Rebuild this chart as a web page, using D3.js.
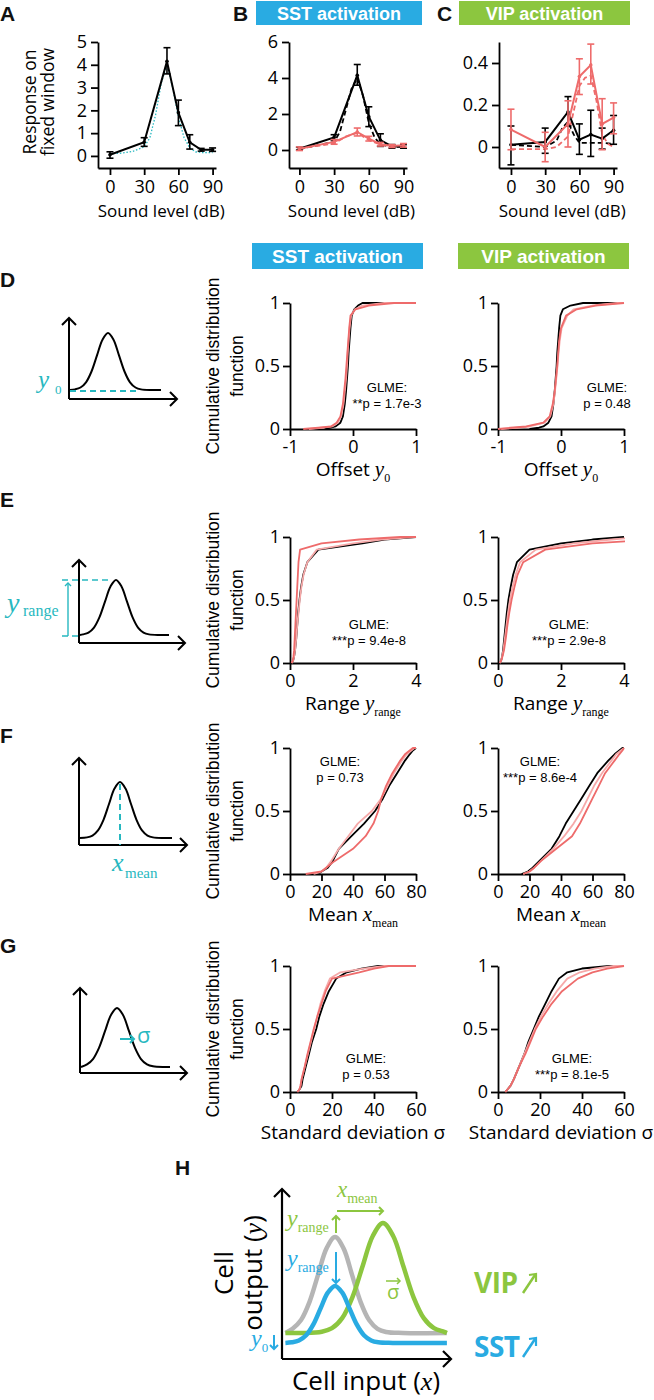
<!DOCTYPE html>
<html><head><meta charset="utf-8">
<script src="https://cdn.jsdelivr.net/npm/d3@7"></script>
<style>body{margin:0;background:#fff;}svg{display:block;}</style>
</head><body>
<svg id="fig" width="654" height="1400"></svg>
<script>
// ================= DATA =================
const soundLevels = [0, 30, 50, 60, 70, 80, 90];
const soundTicks = [0, 30, 60, 90];
const aTicksY = [0, 1, 2, 3, 4, 5];
const bTicksY = [0, 2, 4, 6];
const cTicksY = [0, 0.2, 0.4];

// Panel A
const aMean = [0.05, 0.6, 4.15, 1.9, 0.6, 0.27, 0.27];
const aLo   = [-0.1, 0.42, 3.6, 1.33, 0.3, 0.21, 0.2];
const aHi   = [0.18, 0.8, 4.75, 2.45, 0.93, 0.33, 0.35];
const aFitX = [0, 10, 20, 30, 35, 40, 45, 50, 55, 60, 65, 70, 75, 80, 90];
const aFitY = [0.1, 0.12, 0.2, 0.4, 0.8, 1.8, 3.2, 4.0, 3.0, 1.7, 0.8, 0.35, 0.18, 0.15, 0.15];

// Panel B
const bCtrlMean = [0.07, 0.7, 4.15, 1.85, 0.55, 0.2, 0.2];
const bCtrlLo   = [0.0, 0.55, 3.6, 1.3, 0.2, 0.1, 0.1];
const bCtrlHi   = [0.15, 0.85, 4.75, 2.4, 0.9, 0.3, 0.3];
const bActMean  = [0.07, 0.45, 1.0, 0.63, 0.32, 0.22, 0.26];
const bActLo    = [-0.03, 0.32, 0.78, 0.5, 0.22, 0.14, 0.16];
const bActHi    = [0.17, 0.58, 1.22, 0.76, 0.42, 0.3, 0.36];
const bCtrlFitX = [0, 30, 35, 40, 45, 50, 55, 60, 65, 70, 80, 90];
const bCtrlFitY = [0.05, 0.45, 1.0, 2.2, 3.4, 4.0, 3.0, 1.5, 0.7, 0.3, 0.18, 0.18];
const bActFitX  = [0, 30, 40, 50, 60, 70, 80, 90];
const bActFitY  = [0.1, 0.35, 0.75, 0.95, 0.55, 0.3, 0.2, 0.2];

// Panel C
const cCtrlMean = [0.011, 0.024, 0.167, 0.035, 0.059, 0.04, 0.08];
const cCtrlLo   = [-0.085, -0.03, 0.1, -0.035, -0.045, -0.01, 0.013];
const cCtrlHi   = [0.10, 0.09, 0.24, 0.11, 0.175, 0.09, 0.15];
const cActMean  = [0.083, 0.0, 0.11, 0.336, 0.39, 0.11, 0.14];
const cActLo    = [-0.013, -0.07, 0.0, 0.25, 0.3, -0.013, 0.063];
const cActHi    = [0.18, 0.07, 0.22, 0.42, 0.49, 0.23, 0.21];
const cCtrlFitX = [0, 30, 40, 45, 50, 55, 60, 70, 80, 90];
const cCtrlFitY = [0.01, 0.0, 0.03, 0.09, 0.12, 0.06, 0.02, 0.02, 0.02, 0.015];
const cActFitX  = [0, 30, 40, 45, 50, 55, 60, 65, 70, 75, 80, 85, 90];
const cActFitY  = [-0.01, -0.01, 0.0, 0.025, 0.05, 0.17, 0.29, 0.33, 0.34, 0.22, 0.06, 0.015, 0.0];

// CDF panels: x value reached at each cumulative probability
const cdfProbs = [0, 0.01, 0.02, 0.05, 0.1, 0.2, 0.3, 0.4, 0.5, 0.6, 0.7, 0.8, 0.9, 0.95, 0.98, 1];
const cdfTicksY = [0, 0.5, 1];
const offsetTicks = [-1, 0, 1];
const rangeTicks = [0, 2, 4];
const meanTicks = [0, 20, 40, 60, 80];
const sigmaTicks = [0, 20, 40, 60];

const dSstBlack = [-0.45,-0.35,-0.28,-0.2,-0.16,-0.13,-0.11,-0.095,-0.08,-0.07,-0.055,-0.04,-0.02,0.02,0.08,0.15];
const dSstPink  = [-0.7,-0.5,-0.33,-0.24,-0.19,-0.15,-0.13,-0.11,-0.095,-0.085,-0.07,-0.055,-0.03,0.03,0.15,0.5];
const dSstRed   = [-0.79,-0.55,-0.35,-0.26,-0.2,-0.16,-0.14,-0.12,-0.105,-0.09,-0.075,-0.06,-0.04,0.04,0.25,0.65];
const dVipBlack = [-0.5,-0.35,-0.28,-0.2,-0.15,-0.12,-0.1,-0.085,-0.07,-0.06,-0.045,-0.03,-0.01,0.03,0.15,0.35];
const dVipPink  = [-0.95,-0.7,-0.5,-0.26,-0.17,-0.12,-0.095,-0.075,-0.055,-0.04,-0.02,0.01,0.1,0.2,0.5,0.9];
const dVipRed   = [-1.0,-0.8,-0.55,-0.28,-0.18,-0.13,-0.1,-0.08,-0.06,-0.045,-0.03,0.0,0.08,0.25,0.55,1.0];

const eSstBlack = [0.05,0.08,0.1,0.13,0.16,0.2,0.23,0.26,0.3,0.35,0.42,0.55,0.9,2.3,3.0,4.0];
const eSstPink  = [0.05,0.08,0.1,0.13,0.16,0.2,0.23,0.27,0.31,0.36,0.43,0.55,0.85,2.0,2.9,3.9];
const eSstRed   = [0.05,0.07,0.09,0.11,0.13,0.15,0.17,0.19,0.21,0.23,0.25,0.27,0.32,1.0,2.2,3.5];
const eVipBlack = [0.05,0.08,0.1,0.13,0.16,0.2,0.24,0.28,0.33,0.4,0.48,0.6,1.0,2.0,3.0,4.0];
const eVipPink  = [0.05,0.08,0.1,0.13,0.17,0.22,0.27,0.32,0.38,0.46,0.56,0.7,1.2,2.4,3.6,4.5];
const eVipRed   = [0.05,0.08,0.1,0.14,0.19,0.25,0.3,0.36,0.43,0.52,0.62,0.8,1.5,3.0,5.0,7.0];

const fSstBlack = [17,19,20,24,27,31,39,47,54,59,63,68,73,76,78,80];
const fSstPink  = [15,18,20,23,26,31,37,43,52,58,62,66,71,74,77,79];
const fSstRed   = [10,15,20,23,28,40,48,53,56,58,61,65,70,73,76,78];
const fVipBlack = [15,17,19,22,26,34,39,43,48,53,58,63,70,74,77,79];
const fVipPink  = [16,18,20,23,27,35,42,48,53,57,61,66,72,75,78,80];
const fVipRed   = [16,18,20,23,27,37,47,52,56,60,64,68,74,77,79,80];

const gSstBlack = [3.5,4,4.5,5.5,6,7.5,9,10.5,12.5,14,16,18.5,22,27,34,42];
const gSstPink  = [3.5,4,4.5,5,5.5,7,8.5,10,11.5,13,14.5,16.5,19,24,35,45];
const gSstRed   = [3.5,4,4.5,5,5.5,7,8.3,9.8,11.3,13,15,17,20,33,40,47];
const gVipBlack = [3.5,4,4.5,6,7.5,10,12.5,14.5,17,19.5,22.5,25.5,29,33,40,53];
const gVipPink  = [3.5,4,4.5,6,7.5,10,12.5,15,17.5,20.5,24,28,33,39,46,55];
const gVipRed   = [3.5,4,4.5,6,7.5,10,13,15.5,18,21.5,25.5,30.5,38,45,52,60];

const glmeSst = [["GLME:", "**p = 1.7e-3"], ["GLME:", "***p = 9.4e-8"], ["GLME:", "p = 0.73"], ["GLME:", "p = 0.53"]];
const glmeVip = [["GLME:", "p = 0.48"], ["GLME:", "***p = 2.9e-8"], ["GLME:", "***p = 8.6e-4"], ["GLME:", "***p = 8.1e-5"]];

// schematic gaussian shape (sd units -> relative height)
const gaussK = [-4,-3,-2.5,-2,-1.5,-1,-0.5,0,0.5,1,1.5,2,2.5,3,4];
const gaussV = [0.0003,0.0111,0.0439,0.1353,0.3247,0.6065,0.8825,1,0.8825,0.6065,0.3247,0.1353,0.0439,0.0111,0.0003];
// panel H curves: gray (control), green (VIP), blue (SST)
const hBase = [15.2, 15.2, 9.4];
const hPeak = [71.3, 79.5, 42.7];
const hMu   = [31.2, 59.4, 31.2];
const hSd   = [10, 12, 8.5];

// ================= STYLE =================
const SANS = "'Open Sans', 'Noto Sans', sans-serif";
const ARIAL = "'Liberation Sans', Arial, sans-serif";
const SERIF = "'Liberation Serif', 'Times New Roman', serif";
const RED = '#ee6b6b', PINK = '#f6a9a9', CYAN = '#27b8c0', BLUE = '#29abe2', GREEN = '#8cc63f', GRAY = '#b5b5b5';
const svg = d3.select('#fig');

function styleAxis(sel, fs) {
  sel.attr('font-family', SANS).attr('font-size', fs || 18);
  sel.select('.domain').attr('stroke', '#000').attr('stroke-width', 1.8);
  sel.selectAll('.tick line').attr('stroke', '#000').attr('stroke-width', 1.8);
  sel.selectAll('.tick text').attr('fill', '#000');
}
function chev(g, x, y, dir, s, color, sw) {
  let d;
  if (dir === 'up') d = `M${x-s},${y+s}L${x},${y}L${x+s},${y+s}`;
  if (dir === 'down') d = `M${x-s},${y-s}L${x},${y}L${x+s},${y-s}`;
  if (dir === 'right') d = `M${x-s},${y-s}L${x},${y}L${x-s},${y+s}`;
  g.append('path').attr('d', d).attr('fill', 'none').attr('stroke', color).attr('stroke-width', sw);
}
function letter(t, x, y) {
  svg.append('text').attr('x', x).attr('y', y).text(t)
    .attr('font-family', ARIAL).attr('font-weight', 700).attr('font-size', 21).attr('fill', '#111');
}
function box(t, x0, x1, y0, y1, color, fs, base) {
  svg.append('rect').attr('x', x0).attr('y', y0).attr('width', x1 - x0).attr('height', y1 - y0).attr('fill', color);
  svg.append('text').attr('x', (x0 + x1) / 2).attr('y', base).attr('text-anchor', 'middle')
    .attr('font-family', ARIAL).attr('font-weight', 700).attr('font-size', fs).attr('fill', '#fff').text(t);
}

// ================= TOP ROW =================
function topPanel(cfg) {
  const g = svg.append('g');
  const x = d3.scaleLinear().domain(cfg.xDom).range(cfg.xRange);
  const y = d3.scaleLinear().domain(cfg.yDom).range([168, 42]);
  g.append('g').attr('transform', 'translate(0,168)')
    .call(d3.axisBottom(x).tickValues(soundTicks).tickSize(7).tickSizeOuter(0).tickPadding(5))
    .call(styleAxis);
  g.append('g').attr('transform', `translate(${cfg.xRange[0]},0)`)
    .call(d3.axisLeft(y).tickValues(cfg.yTicks).tickFormat(d => String(d)).tickSize(7).tickSizeOuter(0).tickPadding(4))
    .call(styleAxis);
  g.append('text').attr('x', x(45)).attr('y', 217).attr('text-anchor', 'middle')
    .attr('font-family', SANS).attr('font-size', 17).text('Sound level (dB)');
  const line = d3.line().x(d => x(d[0])).y(d => y(d[1]));
  cfg.fits.forEach(f => {
    g.append('path').datum(d3.zip(f.xs, f.ys)).attr('d', line).attr('fill', 'none')
      .attr('stroke', f.color).attr('stroke-width', f.w).attr('stroke-dasharray', f.dash);
  });
  cfg.series.forEach(s => {
    const eb = g.append('g');
    soundLevels.forEach((lv, i) => {
      eb.append('line').attr('x1', x(lv)).attr('x2', x(lv)).attr('y1', y(s.lo[i])).attr('y2', y(s.hi[i]))
        .attr('stroke', s.color).attr('stroke-width', 1.6);
      [s.lo[i], s.hi[i]].forEach(v => eb.append('line').attr('x1', x(lv) - 3.5).attr('x2', x(lv) + 3.5)
        .attr('y1', y(v)).attr('y2', y(v)).attr('stroke', s.color).attr('stroke-width', 1.6));
    });
    g.append('path').datum(d3.zip(soundLevels, s.mean)).attr('d', line).attr('fill', 'none')
      .attr('stroke', s.color).attr('stroke-width', 2);
    g.selectAll(null).data(d3.zip(soundLevels, s.mean)).join('circle')
      .attr('cx', d => x(d[0])).attr('cy', d => y(d[1])).attr('r', 1.8).attr('fill', s.color);
  });
}

topPanel({xDom: [-10.5, 93], xRange: [98, 216], yDom: [-0.53, 5], yTicks: aTicksY,
  fits: [{xs: aFitX, ys: aFitY, color: CYAN, w: 1.3, dash: '1.5,1.8'}],
  series: [{mean: aMean, lo: aLo, hi: aHi, color: '#000'}]});
topPanel({xDom: [-9, 93], xRange: [289, 407], yDom: [-1, 6], yTicks: bTicksY,
  fits: [{xs: bCtrlFitX, ys: bCtrlFitY, color: '#000', w: 1.8, dash: '5,3'},
         {xs: bActFitX, ys: bActFitY, color: RED, w: 1.8, dash: '5,3'}],
  series: [{mean: bCtrlMean, lo: bCtrlLo, hi: bCtrlHi, color: '#000'},
           {mean: bActMean, lo: bActLo, hi: bActHi, color: RED}]});
topPanel({xDom: [-10.5, 93], xRange: [499, 617], yDom: [-0.1, 0.5], yTicks: cTicksY,
  fits: [{xs: cCtrlFitX, ys: cCtrlFitY, color: '#000', w: 1.8, dash: '5,3'},
         {xs: cActFitX, ys: cActFitY, color: RED, w: 1.8, dash: '5,3'}],
  series: [{mean: cCtrlMean, lo: cCtrlLo, hi: cCtrlHi, color: '#000'},
           {mean: cActMean, lo: cActLo, hi: cActHi, color: RED}]});

// A y label
[['Response on', 28.5], ['fixed window', 46.5]].forEach(([t, xx]) => {
  svg.append('text').attr('transform', `translate(${xx},102) rotate(-90)`).attr('text-anchor', 'middle')
    .attr('dominant-baseline', 'central').attr('font-family', SANS).attr('font-size', 17.5).text(t);
});
letter('A', 0, 21); letter('B', 233, 21); letter('C', 437, 21);
box('SST activation', 256, 422, 1, 25, BLUE, 18, 19.5);
box('VIP activation', 459, 630, 1, 25, GREEN, 18, 19.5);

// ================= CDF ROWS =================
const rows = [
  {top: 303, xDom: [-1, 1], ticks: offsetTicks, sst: [dSstBlack, dSstPink, dSstRed], vip: [dVipBlack, dVipPink, dVipRed],
   label: ['Offset ', 'y', '0'], gs: [387, 392], gv: [607, 392]},
  {top: 537, xDom: [0, 4], ticks: rangeTicks, sst: [eSstBlack, eSstPink, eSstRed], vip: [eVipBlack, eVipPink, eVipRed],
   label: ['Range ', 'y', 'range'], gs: [369, 629], gv: [569, 629]},
  {top: 748, xDom: [0, 80], ticks: meanTicks, sst: [fSstBlack, fSstPink, fSstRed], vip: [fVipBlack, fVipPink, fVipRed],
   label: ['Mean ', 'x', 'mean'], gs: [340, 766], gv: [540, 766]},
  {top: 966, xDom: [0, 60], ticks: sigmaTicks, sst: [gSstBlack, gSstPink, gSstRed], vip: [gVipBlack, gVipPink, gVipRed],
   label: ['Standard deviation σ'], gs: [366, 1063], gv: [572, 1063]}
];
const cdfColors = ['#000', PINK, RED];
let clipId = 0;
function cdfPanel(row, left, series, glme, gpos) {
  const g = svg.append('g');
  const bottom = row.top + 126;
  const x = d3.scaleLinear().domain(row.xDom).range([left, left + 126]);
  const y = d3.scaleLinear().domain([0, 1]).range([bottom, row.top]);
  g.append('g').attr('transform', `translate(0,${bottom})`)
    .call(d3.axisBottom(x).tickValues(row.ticks).tickFormat(d => String(d)).tickSize(7).tickSizeOuter(0).tickPadding(4))
    .call(styleAxis);
  g.append('g').attr('transform', `translate(${left},0)`)
    .call(d3.axisLeft(y).tickValues(cdfTicksY).tickFormat(d => String(d)).tickSize(7).tickSizeOuter(0).tickPadding(3))
    .call(styleAxis);
  const id = 'clip' + (clipId++);
  svg.append('clipPath').attr('id', id).append('rect').attr('x', left).attr('y', row.top - 3).attr('width', 127).attr('height', 130);
  const line = d3.line().x(d => x(d[0])).y(d => y(d[1]));
  series.forEach((s, i) => {
    const pts = d3.zip(s, cdfProbs);
    // the distribution stays at 1 after its largest value, up to the end of the axis
    if (s[s.length - 1] < row.xDom[1]) pts.push([row.xDom[1], 1]);
    g.append('path').datum(pts).attr('d', line).attr('fill', 'none')
      .attr('clip-path', `url(#${id})`).attr('stroke', cdfColors[i]).attr('stroke-width', 1.8)
      .attr('stroke-linejoin', 'round');
  });
  const t = g.append('text').attr('x', x((row.xDom[0] + row.xDom[1]) / 2)).attr('y', bottom + 47)
    .attr('text-anchor', 'middle').attr('font-family', SANS).attr('font-size', 19);
  t.append('tspan').text(row.label[0]);
  if (row.label.length > 1) {
    t.append('tspan').attr('font-family', SERIF).attr('font-style', 'italic').attr('font-size', 21).text(row.label[1]);
    t.append('tspan').attr('font-family', SERIF).attr('font-size', 12).attr('dy', 6).text(row.label[2]);
  }
  glme.forEach((s, i) => {
    g.append('text').attr('x', gpos[0]).attr('y', gpos[1] + i * 16).attr('text-anchor', 'middle')
      .attr('font-family', ARIAL).attr('font-size', 13).text(s);
  });
}
rows.forEach((row, r) => {
  cdfPanel(row, 290, row.sst, glmeSst[r], row.gs);
  cdfPanel(row, 498, row.vip, glmeVip[r], row.gv);
  const cy = row.top + 63;
  [['Cumulative distribution', 213], ['function', 237]].forEach(([t, xx]) => {
    svg.append('text').attr('transform', `translate(${xx},${cy}) rotate(-90)`).attr('text-anchor', 'middle')
      .attr('dominant-baseline', 'central').attr('font-family', ARIAL).attr('font-size', 17.5).text(t);
  });
});
box('SST activation', 252, 423, 243, 269, BLUE, 19, 263);
box('VIP activation', 458, 629, 243, 269, GREEN, 19, 263);
letter('D', 0, 287); letter('E', 0, 507); letter('F', 0, 743); letter('G', 0, 953); letter('H', 175, 1175);

// ================= SCHEMATICS =================
function schematic(c) {
  const g = svg.append('g');
  const sx = d3.scaleLinear().domain([0, 1]).range([c.mu, c.mu + c.sd]);
  const sy = d3.scaleLinear().domain([0, 1]).range([c.base, c.peak]);
  const k0 = sx.invert(c.ax + 1), k1 = sx.invert(c.end);
  const pts = [[k0, 0]].concat(gaussK.map((k, i) => [k, gaussV[i]]).filter(p => p[0] > k0 && p[0] < k1)).concat([[k1, 0]]);
  g.append('path').datum(pts).attr('d', d3.line().x(d => sx(d[0])).y(d => sy(d[1])).curve(d3.curveCatmullRom))
    .attr('fill', 'none').attr('stroke', '#000').attr('stroke-width', 2);
  g.append('line').attr('x1', c.ax).attr('x2', c.ax).attr('y1', c.axisY).attr('y2', c.top).attr('stroke', '#000').attr('stroke-width', 2);
  g.append('line').attr('x1', c.ax).attr('x2', c.right).attr('y1', c.axisY).attr('y2', c.axisY).attr('stroke', '#000').attr('stroke-width', 2);
  chev(g, c.ax, c.top, 'up', 7, '#000', 2);
  chev(g, c.right, c.axisY, 'right', 7, '#000', 2);
  return {g, sx, sy};
}
// D
let s = schematic({ax: 69, top: 318, axisY: 399, right: 177, mu: 108, sd: 11, base: 390, peak: 333, end: 161});
s.g.append('line').attr('x1', 70).attr('x2', 140).attr('y1', 391).attr('y2', 391).attr('stroke', CYAN).attr('stroke-width', 2).attr('stroke-dasharray', '6,4');
s.g.append('text').attr('x', 38).attr('y', 388).attr('font-family', SERIF).attr('font-style', 'italic').attr('font-size', 25).attr('fill', CYAN).text('y');
s.g.append('text').attr('x', 55).attr('y', 394).attr('font-family', SERIF).attr('font-size', 13).attr('fill', CYAN).text('0');
// E
s = schematic({ax: 79, top: 560, axisY: 643, right: 185, mu: 116, sd: 11, base: 635, peak: 580, end: 169});
s.g.append('line').attr('x1', 62).attr('x2', 112).attr('y1', 580).attr('y2', 580).attr('stroke', CYAN).attr('stroke-width', 1.6).attr('stroke-dasharray', '6,4');
s.g.append('line').attr('x1', 62).attr('x2', 78).attr('y1', 636).attr('y2', 636).attr('stroke', CYAN).attr('stroke-width', 1.6).attr('stroke-dasharray', '6,4');
s.g.append('line').attr('x1', 68).attr('x2', 68).attr('y1', 636).attr('y2', 583).attr('stroke', CYAN).attr('stroke-width', 1.4);
chev(s.g, 68, 583, 'up', 3, CYAN, 1.4);
s.g.append('text').attr('x', 7).attr('y', 612).attr('font-family', SERIF).attr('font-style', 'italic').attr('font-size', 28).attr('fill', CYAN).text('y');
s.g.append('text').attr('x', 23).attr('y', 616).attr('font-family', SERIF).attr('font-size', 16).attr('fill', CYAN).text('range');
// F
s = schematic({ax: 79, top: 758, axisY: 845, right: 187, mu: 120, sd: 11, base: 838, peak: 782, end: 172});
s.g.append('line').attr('x1', 120).attr('x2', 120).attr('y1', 784).attr('y2', 845).attr('stroke', CYAN).attr('stroke-width', 2).attr('stroke-dasharray', '6,4');
s.g.append('text').attr('x', 112).attr('y', 871).attr('font-family', SERIF).attr('font-style', 'italic').attr('font-size', 26).attr('fill', CYAN).text('x');
s.g.append('text').attr('x', 125).attr('y', 878).attr('font-family', SERIF).attr('font-size', 15).attr('fill', CYAN).text('mean');
// G
s = schematic({ax: 80, top: 988, axisY: 1073, right: 187, mu: 117, sd: 12, base: 1067, peak: 1008, end: 170});
s.g.append('line').attr('x1', 120).attr('x2', 133).attr('y1', 1039).attr('y2', 1039).attr('stroke', CYAN).attr('stroke-width', 2);
chev(s.g, 134, 1039, 'right', 4, CYAN, 2);
s.g.append('text').attr('x', 137).attr('y', 1043).attr('font-family', SANS).attr('font-size', 22).attr('fill', CYAN).text('σ');

// ================= PANEL H =================
(function () {
  const g = svg.append('g');
  const hx = d3.scaleLinear().domain([0, 100]).range([282, 452]);
  const hy = d3.scaleLinear().domain([0, 100]).range([1359, 1188]);
  const colors = [GRAY, GREEN, BLUE];
  const line = d3.line().x(d => hx(d[0])).y(d => hy(d[1])).curve(d3.curveCatmullRom);
  hBase.forEach((b, i) => {
    const k0 = (2 - hMu[i]) / hSd[i], k1 = (97 - hMu[i]) / hSd[i];
    const pts = [[2, b]].concat(gaussK.filter(k => k > k0 && k < k1).map(k => [hMu[i] + k * hSd[i], b + (hPeak[i] - b) * gaussV[gaussK.indexOf(k)]])).concat([[97, b]]);
    g.append('path').datum(pts).attr('d', line).attr('fill', 'none').attr('stroke', colors[i]).attr('stroke-width', 4.5);
  });
  g.append('line').attr('x1', 282).attr('x2', 282).attr('y1', 1359).attr('y2', 1189).attr('stroke', '#000').attr('stroke-width', 2.2);
  g.append('line').attr('x1', 282).attr('x2', 451).attr('y1', 1359).attr('y2', 1359).attr('stroke', '#000').attr('stroke-width', 2.2);
  chev(g, 282, 1189, 'up', 8, '#000', 2.2);
  chev(g, 451, 1359, 'right', 8, '#000', 2.2);
  const t1 = g.append('text').attr('x', 366).attr('y', 1390).attr('text-anchor', 'middle').attr('font-family', SANS).attr('font-size', 26);
  t1.append('tspan').text('Cell input (');
  t1.append('tspan').attr('font-family', SERIF).attr('font-style', 'italic').text('x');
  t1.append('tspan').text(')');
  g.append('text').attr('transform', 'translate(233,1273) rotate(-90)').attr('text-anchor', 'middle')
    .attr('font-family', SANS).attr('font-size', 26).text('Cell');
  const t2 = g.append('text').attr('transform', 'translate(262,1273) rotate(-90)').attr('text-anchor', 'middle')
    .attr('font-family', SANS).attr('font-size', 26);
  t2.append('tspan').text('output (');
  t2.append('tspan').attr('font-family', SERIF).attr('font-style', 'italic').text('y');
  t2.append('tspan').text(')');
  function lab(x, y, main, sub, color, fs, sfs, sdy) {
    const t = g.append('text').attr('x', x).attr('y', y).attr('fill', color).attr('font-family', SERIF);
    t.append('tspan').attr('font-style', 'italic').attr('font-size', fs).text(main);
    t.append('tspan').attr('font-size', sfs).attr('dy', sdy).text(sub);
  }
  lab(337, 1197, 'x', 'mean', GREEN, 23, 14, 6);
  g.append('line').attr('x1', 337).attr('x2', 382).attr('y1', 1211).attr('y2', 1211).attr('stroke', GREEN).attr('stroke-width', 2);
  chev(g, 383, 1211, 'right', 4, GREEN, 2);
  lab(287, 1226, 'y', 'range', GREEN, 24, 14, 6);
  g.append('line').attr('x1', 336).attr('x2', 336).attr('y1', 1233).attr('y2', 1217).attr('stroke', GREEN).attr('stroke-width', 2);
  chev(g, 336, 1216, 'up', 4, GREEN, 2);
  lab(287, 1266, 'y', 'range', BLUE, 24, 14, 6);
  g.append('line').attr('x1', 336).attr('x2', 336).attr('y1', 1252).attr('y2', 1282).attr('stroke', BLUE).attr('stroke-width', 2);
  chev(g, 336, 1283, 'down', 4, BLUE, 2);
  lab(251, 1346, 'y', '0', BLUE, 24, 13, 6);
  g.append('line').attr('x1', 274).attr('x2', 274).attr('y1', 1335).attr('y2', 1348).attr('stroke', BLUE).attr('stroke-width', 2);
  chev(g, 274, 1349, 'down', 4, BLUE, 2);
  g.append('line').attr('x1', 386).attr('x2', 399).attr('y1', 1281).attr('y2', 1281).attr('stroke', GREEN).attr('stroke-width', 1.5);
  chev(g, 400, 1281, 'right', 3, GREEN, 1.5);
  g.append('text').attr('x', 393).attr('y', 1299).attr('text-anchor', 'middle').attr('font-family', SANS).attr('font-size', 20).attr('fill', GREEN).text('σ');
  [['VIP', GREEN, 1293], ['SST', BLUE, 1357]].forEach(([t, col, yy]) => {
    g.append('text').attr('x', 474).attr('y', yy).attr('font-family', SANS).attr('font-weight', 700)
      .attr('font-size', 28).attr('fill', col).attr('letter-spacing', -0.5).text(t);
    g.append('line').attr('x1', 523).attr('y1', yy).attr('x2', 535).attr('y2', yy - 18).attr('stroke', col).attr('stroke-width', 2.5);
    g.append('path').attr('d', `M${529},${yy - 18}L${536},${yy - 19}L${536},${yy - 11}`).attr('fill', 'none').attr('stroke', col).attr('stroke-width', 2.2);
  });
})();
</script>
</body></html>
